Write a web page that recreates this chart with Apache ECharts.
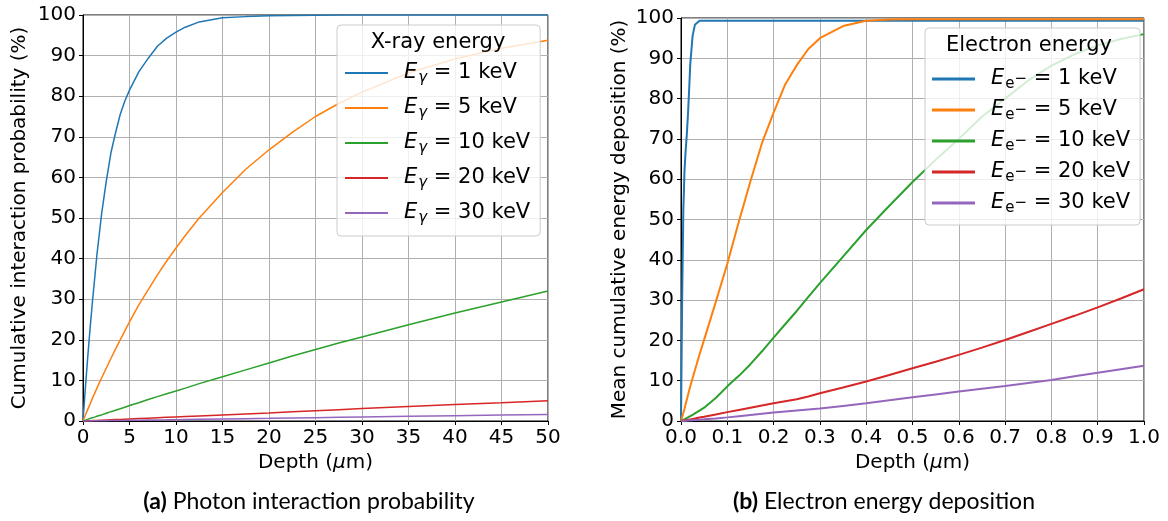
<!DOCTYPE html>
<html>
<head>
<meta charset="utf-8">
<script src="https://cdn.jsdelivr.net/npm/echarts@6/dist/echarts.min.js"></script>
<style>
html,body{margin:0;padding:0;background:#fff;}
#chart{width:1168px;height:521px;}
</style>
</head>
<body>
<div id="chart"></div>
<script>
// ---------- Data ----------
// (a) Photon interaction probability
const photonDepth = [0,0.25,0.5,0.75,1,1.25,1.5,1.75,2,2.5,3,3.5,4,4.5,5,6,7,8,9,10,11,12.5,15,17.5,20,22.5,25,27.5,30,35,40,45,50];
const photon1keV  = [0,8,15.5,22.5,29,35,41,46,51,59,66,71,75.5,78.8,81.5,86,89.3,92.3,94.3,95.8,97,98.3,99.3,99.6,99.8,99.9,99.95,100,100,100,100,100,100];
const photon5keV  = [0,1.4,2.8,4.1,5.5,6.8,8.1,9.4,10.6,13,15.4,17.7,20,22.2,24.4,28.6,32.3,36,39.4,42.6,45.7,50,56.3,62,66.8,71.1,75,78.2,81,85.7,89.2,91.8,93.8];
const photon10keV = [0,0.2,0.4,0.6,0.8,0.95,1.15,1.35,1.5,1.9,2.3,2.65,3.0,3.4,3.8,4.5,5.3,6.0,6.7,7.4,8.1,9.2,10.9,12.6,14.3,16.0,17.6,19.2,20.7,23.7,26.6,29.3,32];
const photon20keV = [0,0.03,0.05,0.08,0.1,0.13,0.15,0.18,0.2,0.25,0.3,0.35,0.4,0.45,0.5,0.6,0.7,0.8,0.9,1.0,1.1,1.25,1.5,1.75,2.0,2.3,2.55,2.8,3.05,3.55,4.05,4.5,5.0];
const photon30keV = [0,0.01,0.02,0.02,0.03,0.04,0.05,0.06,0.07,0.08,0.1,0.11,0.13,0.15,0.16,0.2,0.23,0.26,0.29,0.33,0.36,0.41,0.49,0.57,0.65,0.74,0.82,0.9,0.98,1.14,1.3,1.45,1.6];
const photonNames = ['1 keV','5 keV','10 keV','20 keV','30 keV'];

// (b) Electron energy deposition
const electronDepth = [0,0.0025,0.005,0.0075,0.01,0.0125,0.015,0.0175,0.02,0.025,0.03,0.04,0.05,0.075,0.1,0.125,0.15,0.175,0.2,0.225,0.25,0.275,0.3,0.35,0.4,0.45,0.5,0.55,0.6,0.65,0.7,0.75,0.8,0.85,0.9,0.95,1.0];
const electron1keV  = [0,30,52,62,67,71,76,82,88.5,95.5,98.3,99.3,99.3,99.3,99.3,99.3,99.3,99.3,99.3,99.3,99.3,99.3,99.3,99.3,99.3,99.3,99.3,99.3,99.3,99.3,99.3,99.3,99.3,99.3,99.3,99.3,99.3];
const electron5keV  = [0,1,2,3,4.2,5.3,6.4,7.5,8.6,10.6,12.6,16.5,20.2,29.5,39,49.5,59.5,69,76.5,83.5,88.3,92.3,95,98,99.3,99.6,99.7,99.7,99.7,99.7,99.7,99.7,99.7,99.7,99.7,99.7,99.7];
const electron10keV = [0,0.15,0.3,0.45,0.6,0.75,0.9,1.05,1.2,1.5,1.9,2.6,3.3,5.7,8.6,11.2,14.1,17.3,20.7,24,27.3,30.8,34.2,40.8,47.4,53.4,59.3,64.8,70,75.5,80,84.5,88.2,91,93.2,94.8,96];
const electron20keV = [0,0.05,0.1,0.15,0.2,0.25,0.3,0.35,0.4,0.5,0.6,0.85,1.05,1.6,2.2,2.75,3.3,3.85,4.4,4.9,5.4,6.1,6.9,8.3,9.8,11.4,13.1,14.7,16.4,18.2,20.1,22.1,24.1,26.1,28.2,30.4,32.7];
const electron30keV = [0,0.02,0.04,0.06,0.08,0.1,0.12,0.14,0.16,0.2,0.25,0.33,0.42,0.65,0.9,1.2,1.5,1.8,2.1,2.35,2.6,2.85,3.1,3.75,4.4,5.15,5.9,6.6,7.3,8.0,8.7,9.45,10.2,11.1,12.0,12.85,13.7];
const electronNames = ['1 keV','5 keV','10 keV','20 keV','30 keV'];

const colors = ['#1f77b4','#ff7f0e','#2ca02c','#d62728','#9467bd'];

// ---------- Chart ----------
const FONT = 'DejaVu Sans';
const chart = echarts.init(document.getElementById('chart'), null, {renderer:'canvas'});

function pairs(xs, ys){ return xs.map((x,i)=>[x, ys[i]]); }

const photonSeriesVals = [photon1keV, photon5keV, photon10keV, photon20keV, photon30keV];
const electronSeriesVals = [electron1keV, electron5keV, electron10keV, electron20keV, electron30keV];

const series = [];
photonSeriesVals.forEach((v,i)=>{
  series.push({
    name: 'g' + photonNames[i], type:'line', xAxisIndex:0, yAxisIndex:0,
    data: pairs(photonDepth, v), showSymbol:false, symbol:'none',
    lineStyle:{color:colors[i], width:1.5}, itemStyle:{color:colors[i]}, z: 3
  });
});
electronSeriesVals.forEach((v,i)=>{
  series.push({
    name: 'e' + electronNames[i], type:'line', xAxisIndex:1, yAxisIndex:1,
    data: pairs(electronDepth, v), showSymbol:false, symbol:'none',
    lineStyle:{color:colors[i], width:2}, itemStyle:{color:colors[i]}, z: 3
  });
});

const nameRich = {i:{fontFamily:FONT, fontSize:20, fontStyle:'italic', color:'#000'}};
const axisCommon = {
  axisLine:{show:true, onZero:false, lineStyle:{color:'#000', width:1}},
  axisTick:{show:true, inside:false, length:4, lineStyle:{color:'#000', width:1}},
  axisLabel:{color:'#000', fontFamily:FONT, fontSize:20, margin:7},
  splitLine:{show:true, lineStyle:{color:'#b0b0b0', width:1}},
  nameTextStyle:{color:'#000', fontFamily:FONT, fontSize:20, rich:nameRich},
};

const legendRich = {
  E:{fontFamily:FONT, fontSize:21, fontStyle:'italic', color:'#000'},
  g:{fontFamily:FONT, fontSize:15, fontStyle:'italic', color:'#000', padding:[10,0,0,1]},
  s:{fontFamily:FONT, fontSize:15, color:'#000', padding:[10,0,0,1]},
  m:{fontFamily:FONT, fontSize:15, color:'#000', padding:[1,0,0,0]},
  t:{fontFamily:FONT, fontSize:21, color:'#000'}
};

const option = {
  animation:false,
  backgroundColor:'#fff',
  grid:[
    {left:83, top:15, width:465, height:406, show:true, borderColor:'#000', borderWidth:1, backgroundColor:'transparent'},
    {left:681, top:18, width:463, height:403, show:true, borderColor:'#000', borderWidth:1, backgroundColor:'transparent'}
  ],
  xAxis:[
    Object.assign({}, axisCommon, {type:'value', gridIndex:0, min:0, max:50, interval:5,
      name:'Depth ({i|μ}m)', nameLocation:'middle', nameGap:32}),
    Object.assign({}, axisCommon, {type:'value', gridIndex:1, min:0, max:1, interval:0.1,
      name:'Depth ({i|μ}m)', nameLocation:'middle', nameGap:32,
      axisLabel:Object.assign({}, axisCommon.axisLabel, {formatter:v=>v.toFixed(1)})})
  ],
  yAxis:[
    Object.assign({}, axisCommon, {type:'value', gridIndex:0, min:0, max:100, interval:10,
      name:'Cumulative interaction probability (%)', nameLocation:'middle', nameGap:53, nameRotate:90}),
    Object.assign({}, axisCommon, {type:'value', gridIndex:1, min:0, max:100, interval:10,
      name:'Mean cumulative energy deposition (%)', nameLocation:'middle', nameGap:51, nameRotate:90})
  ],
  legend:[
    {
      data: photonNames.map(n=>'g'+n), orient:'vertical', left:337, top:25,
      icon:'rect', itemWidth:43, itemHeight:2, itemGap:9,
      padding:[35,10,10,8],
      backgroundColor:'rgba(255,255,255,0.8)', borderColor:'#cccccc', borderWidth:1, borderRadius:4,
      selectedMode:false,
      formatter: n => '{E|E}{g|γ}{t| = ' + n.slice(1) + '}',
      textStyle:{fontFamily:FONT, fontSize:21, color:'#000', lineHeight:26, padding:[0,0,0,11], rich:legendRich},
      z:5
    },
    {
      data: electronNames.map(n=>'e'+n), orient:'vertical', left:925, top:28,
      icon:'rect', itemWidth:43, itemHeight:3, itemGap:5,
      padding:[38,10,9,7],
      backgroundColor:'rgba(255,255,255,0.8)', borderColor:'#cccccc', borderWidth:1, borderRadius:4,
      selectedMode:false,
      formatter: n => '{E|E}{s|e}{m|−}{t| = ' + n.slice(1) + '}',
      textStyle:{fontFamily:FONT, fontSize:21, color:'#000', lineHeight:26, padding:[0,0,0,11], rich:legendRich},
      z:5
    }
  ],
  graphic:[
    {type:'text', z:100, x:438, y:43, style:{text:'X-ray energy', fontFamily:FONT, fontSize:21, fill:'#000', align:'center', verticalAlign:'middle'}},
    {type:'text', z:100, x:1029, y:46, style:{text:'Electron energy', fontFamily:FONT, fontSize:21, fill:'#000', align:'center', verticalAlign:'middle'}},
    {type:'text', z:100, x:309, y:502, style:{text:'{b|(a)} Photon interaction probability', fontFamily:'Lato', fontSize:23, fill:'#000', align:'center', verticalAlign:'middle',
      rich:{b:{fontFamily:'Lato', fontSize:23, fontWeight:'bold', fill:'#000'}}}},
    {type:'text', z:100, x:884, y:502, style:{text:'{b|(b)} Electron energy deposition', fontFamily:'Lato', fontSize:23, fill:'#000', align:'center', verticalAlign:'middle',
      rich:{b:{fontFamily:'Lato', fontSize:23, fontWeight:'bold', fill:'#000'}}}}
  ],
  series: series
};
chart.setOption(option);
</script>
</body>
</html>
